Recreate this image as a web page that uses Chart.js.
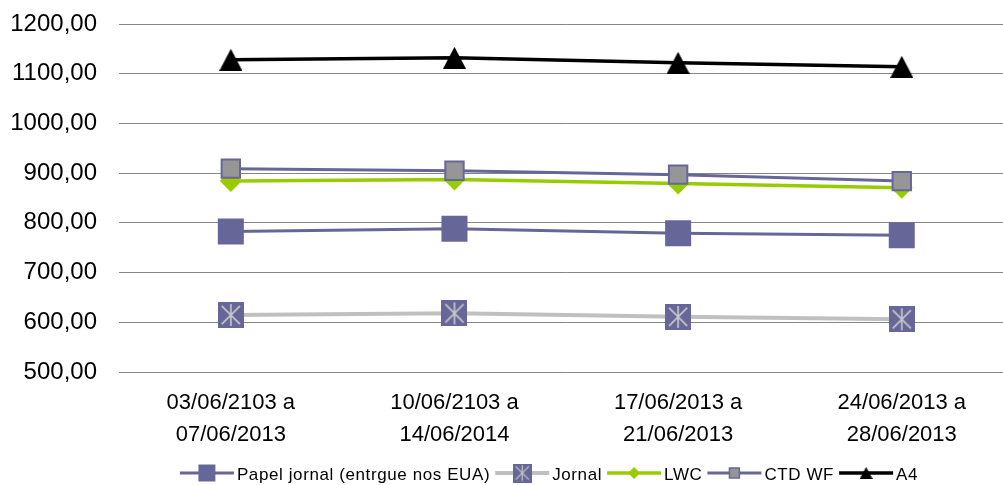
<!DOCTYPE html>
<html>
<head>
<meta charset="utf-8">
<script src="https://cdn.jsdelivr.net/npm/chart.js@4/dist/chart.umd.min.js"></script>
<style>
  html, body { margin: 0; padding: 0; background: #fff; overflow: hidden; }
  #wrap { width: 1032px; height: 485px; }
</style>
</head>
<body>
<div id="wrap"><canvas id="c" width="1032" height="485"></canvas></div>
<script>
// Weekly price periods (two-line category labels)
const categories = [
  ["03/06/2103 a", "07/06/2013"],
  ["10/06/2103 a", "14/06/2014"],
  ["17/06/2013 a", "21/06/2013"],
  ["24/06/2013 a", "28/06/2013"]
];
const seriesNames = ["Papel jornal (entrgue nos EUA)", "Jornal", "LWC", "CTD WF", "A4"];
const papelJornal = [782.6, 788, 779, 775];
const jornal = [614.6, 618, 611, 606];
const lwc = [884, 887, 879, 870.5];
const ctdWf = [909, 904.7, 897, 884];
const a4 = [1128, 1132, 1122, 1114];
const yMin = 500, yMax = 1200, yStep = 100;

const FONT = '"Liberation Sans", Arial, sans-serif';
const PURPLE = '#666699';

// Purple square with a light asterisk, used for the "Jornal" series
function starSquare(size) {
  const c = document.createElement('canvas');
  c.width = size; c.height = size;
  const g = c.getContext('2d');
  g.fillStyle = PURPLE;
  g.fillRect(0, 0, size, size);
  g.strokeStyle = '#C8C8C8';
  g.lineWidth = Math.max(1.2, size / 16);
  const i = size * 0.15, m = size / 2;
  g.beginPath();
  g.moveTo(i, i); g.lineTo(size - i, size - i);
  g.moveTo(size - i, i); g.lineTo(i, size - i);
  g.moveTo(m, size * 0.08); g.lineTo(m, size * 0.92);
  g.stroke();
  return c;
}

// Solid black triangle centred on its bounding box, used for "A4"
function triangleMark(w, h) {
  const c = document.createElement('canvas');
  c.width = w; c.height = h;
  const g = c.getContext('2d');
  g.fillStyle = '#000';
  g.beginPath();
  g.moveTo(w / 2, 0); g.lineTo(w, h); g.lineTo(0, h);
  g.closePath();
  g.fill();
  return c;
}

const jornalPoint = starSquare(26);
const a4Point = triangleMark(23, 22);

// Legend key markers (line sample + small marker)
const keyMarkers = [
  { pointStyle: 'rect', radius: 12, fill: PURPLE, stroke: PURPLE, bw: 0 },
  { pointStyle: starSquare(19), radius: 9 },
  { pointStyle: 'rectRot', radius: 6, fill: '#99CC00', stroke: '#99CC00', bw: 0 },
  { pointStyle: 'rect', radius: 7, fill: '#969696', stroke: PURPLE, bw: 1.5 },
  { pointStyle: triangleMark(13, 12), radius: 6 }
];

const seriesKey = {
  id: 'seriesKey',
  afterDraw(chart) {
    const ctx = chart.ctx;
    ctx.save();
    ctx.font = '17px ' + FONT;
    if ('letterSpacing' in ctx) ctx.letterSpacing = '0.6px';
    ctx.textBaseline = 'middle';
    const sample = 54, gapText = 3, gapItem = 5, y = 473;
    const items = chart.data.datasets.map((ds, i) => ({ ds, i, w: ctx.measureText(ds.label).width }));
    const total = items.reduce((s, it) => s + sample + gapText + it.w, 0) + gapItem * (items.length - 1);
    let x = 549 - total / 2;
    items.forEach(({ ds, i, w }) => {
      ctx.strokeStyle = ds.borderColor;
      ctx.lineWidth = ds.borderWidth;
      ctx.beginPath();
      ctx.moveTo(x, y); ctx.lineTo(x + sample, y);
      ctx.stroke();
      const k = keyMarkers[i];
      ctx.fillStyle = k.fill || '#000';
      ctx.strokeStyle = k.stroke || '#000';
      ctx.lineWidth = k.bw || 0;
      Chart.helpers.drawPoint(ctx, { pointStyle: k.pointStyle, radius: k.radius, borderWidth: k.bw || 0, rotation: 0 }, x + sample / 2, y);
      ctx.fillStyle = '#000';
      ctx.textAlign = 'left';
      ctx.fillText(ds.label, x + sample + gapText, y + 2);
      x += sample + gapText + w + gapItem;
    });
    ctx.restore();
  }
};

new Chart(document.getElementById('c'), {
  type: 'line',
  data: {
    labels: categories,
    datasets: [
      {
        label: seriesNames[0], data: papelJornal,
        borderColor: PURPLE, borderWidth: 3,
        pointStyle: 'rect', pointRadius: 18.4,
        pointBackgroundColor: PURPLE, pointBorderColor: PURPLE, pointBorderWidth: 0
      },
      {
        label: seriesNames[1], data: jornal,
        borderColor: '#C0C0C0', borderWidth: 4,
        pointStyle: jornalPoint, pointRadius: 13
      },
      {
        label: seriesNames[2], data: lwc,
        borderColor: '#99CC00', borderWidth: 3.5,
        pointStyle: 'rectRot', pointRadius: 11,
        pointBackgroundColor: '#99CC00', pointBorderColor: '#99CC00', pointBorderWidth: 0
      },
      {
        label: seriesNames[3], data: ctdWf, order: -1,
        borderColor: PURPLE, borderWidth: 3,
        pointStyle: 'rect', pointRadius: 13,
        pointBackgroundColor: '#969696', pointBorderColor: PURPLE, pointBorderWidth: 2
      },
      {
        label: seriesNames[4], data: a4,
        borderColor: '#000000', borderWidth: 3.5,
        pointStyle: a4Point, pointRadius: 12
      }
    ]
  },
  options: {
    responsive: false,
    animation: false,
    events: [],
    layout: { padding: { top: 24, left: 0, right: 0, bottom: 0 } },
    plugins: { legend: { display: false }, tooltip: { enabled: false } },
    scales: {
      x: {
        offset: true,
        grid: { display: false, drawTicks: false, offset: true },
        border: { display: false },
        ticks: {
          color: '#000', padding: 15, maxRotation: 0, autoSkip: false,
          font: { family: FONT, size: 22, lineHeight: 1.45 }
        },
        afterFit(s) { s.height = 113; s.paddingLeft = 0; s.paddingRight = 0; }
      },
      y: {
        min: yMin, max: yMax,
        grid: { color: '#868686', lineWidth: 1, drawTicks: false },
        border: { display: false },
        ticks: {
          stepSize: yStep, color: '#000', padding: 22,
          font: { family: FONT, size: 24 },
          callback: v => v.toFixed(2).replace('.', ',')
        },
        afterFit(s) { s.width = 119; s.paddingTop = 0; s.paddingBottom = 0; }
      }
    }
  },
  plugins: [seriesKey]
});
</script>
</body>
</html>
